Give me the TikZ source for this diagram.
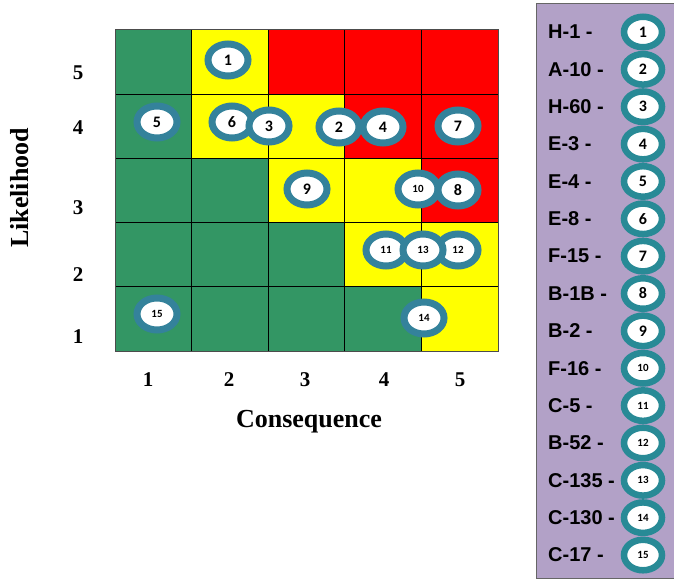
\documentclass[tikz,border=0pt]{standalone}
\usepackage{fontspec}
\setmainfont{Liberation Serif}
\newfontfamily\legfont{Liberation Sans}
\newfontfamily\numfont{Carlito}
\usetikzlibrary{shapes.geometric,positioning}
\definecolor{G}{RGB}{51,150,100}
\definecolor{Y}{RGB}{255,255,0}
\definecolor{R}{RGB}{255,0,0}
\definecolor{ringblue}{RGB}{52,130,155}
\definecolor{ringteal}{RGB}{40,138,150}
\definecolor{lavender}{RGB}{178,161,199}
\tikzset{
    marker/.style={ellipse, draw=ringblue, line width=7pt, fill=white,
        minimum width=40pt, minimum height=32pt, inner sep=0pt,
        font=\numfont\bfseries\fontsize{16}{16}\selectfont},
    smallmark/.style={marker, font=\numfont\bfseries\fontsize{11}{11}\selectfont},
    legmark/.style={marker, draw=ringteal, line width=6.5pt,
        minimum width=38pt, minimum height=30.5pt},
    leglab/.style={anchor=west, inner sep=0pt,
        font=\legfont\bfseries\fontsize{20}{20}\selectfont},
    axnum/.style={font=\bfseries\fontsize{21}{21}\selectfont},
    axtitle/.style={font=\bfseries\fontsize{26}{26}\selectfont}
}
\begin{document}
\begin{tikzpicture}[x=1pt, y=-1pt]
    \useasboundingbox (0,0) rectangle (674,580);
    % risk cells
    \foreach \r/\list in {5/{G,Y,R,R,R}, 4/{G,Y,Y,R,R}, 3/{G,G,Y,Y,R},
                          2/{G,G,G,Y,Y}, 1/{G,G,G,G,Y}}
        \foreach \col [count=\c] in \list
            \fill[\col] ({115+(\c-1)*76.6},{30+(5-\r)*64.2}) rectangle +(76.6,64.2);
    \foreach \i in {1,...,4} {
        \draw[black, line width=0.8pt] ({115+\i*76.6},30) -- +(0,321);
        \draw[black, line width=0.8pt] (115,{30+\i*64.2}) -- +(383,0);
    }
    \draw[black!70, line width=1pt] (115,30) rectangle (498,351);
    % axes
    \foreach \n/\y in {5/73, 4/128, 3/208, 2/275, 1/337}
        \node[axnum] (y\n) at (78,\y) {\n};
    \foreach \n/\x in {1/148, 2/229, 3/305, 4/384, 5/460}
        \node[axnum] (x\n) at (\x,380) {\n};
    \node[axtitle, rotate=90] (lik) at (20,188) {Likelihood};
    \node[axtitle] (con) at (309,422) {Consequence};
    % hazards in the matrix
    \node[marker] (m1) at (228,60) {1};
    \node[marker] (m5) at (157,122) {5};
    \node[marker] (m6) at (232,122) {6};
    \node[marker] (m3) at (269,126) {3};
    \node[marker] (m2) at (339,127) {2};
    \node[marker] (m4) at (383,127) {4};
    \node[marker] (m7) at (458,126) {7};
    \node[marker] (m9) at (307,189) {9};
    \node[smallmark] (m10) at (418,189) {10};
    \node[marker] (m8) at (458,190) {8};
    \node[smallmark] (m11) at (386,250) {11};
    \node[smallmark] (m12) at (458,250) {12};
    \node[smallmark] (m13) at (423,250) {13};
    \node[smallmark] (m14) at (424,318) {14};
    \node[smallmark] (m15) at (157,314) {15};
    % legend
    \filldraw[fill=lavender, draw=black!60, line width=1pt] (536,4) rectangle (690,578);
    \foreach \lab [count=\i] in {H-1, A-10, H-60, E-3, E-4, E-8, F-15, B-1B,
                                 B-2, F-16, C-5, B-52, C-135, C-130, C-17} {
        \node[leglab] (l\i) at (548,{32+(\i-1)*37.36}) {\lab\ -};
        \ifnum\i<10
            \node[legmark] (k\i) at (643,{32+(\i-1)*37.36}) {\i};
        \else
            \node[legmark, font=\numfont\bfseries\fontsize{11}{11}\selectfont]
                (k\i) at (643,{32+(\i-1)*37.36}) {\i};
        \fi
    }
\end{tikzpicture}
\end{document}
